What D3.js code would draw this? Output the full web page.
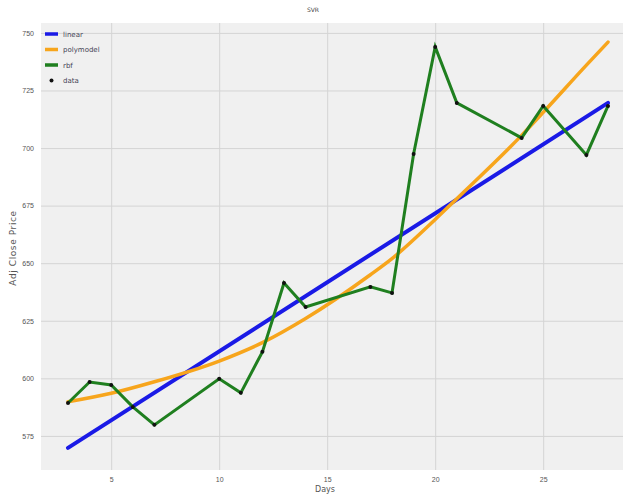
<!DOCTYPE html>
<html>
<head>
<meta charset="utf-8">
<script src="https://cdn.jsdelivr.net/npm/d3@7"></script>
<style>
  html, body { margin: 0; padding: 0; background: #ffffff; }
  svg { display: block; font-family: "DejaVu Sans", sans-serif; }
</style>
</head>
<body>
<svg id="chart" width="623" height="498"></svg>
<script>
// Trading days and adjusted close prices
const days = [3, 4, 5, 6, 7, 10, 11, 12, 13, 14, 17, 18, 19, 20, 21, 24, 25, 27, 28];
const prices = [589.3, 598.4, 597.1, 587.6, 579.8, 599.8, 593.7, 611.5, 641.4, 631.0,
                639.7, 637.1, 697.4, 743.9, 719.6, 704.4, 718.3, 697.0, 718.3];

// Model predictions
const linearDays = [3, 28];
const linearPred = [569.8, 719.6];
const polyDays = [3, 5, 7, 10, 12, 14, 17, 18, 20, 21, 24, 25, 27, 28];
const polyPred = [589.8, 593.5, 598.5, 607.5, 615.5, 626.0, 645.0, 652.0, 669.0, 678.0,
                  705.5, 715.5, 736.0, 746.0];
const rbfPred = prices;

const xTicks = [5, 10, 15, 20, 25];
const yTicks = [575, 600, 625, 650, 675, 700, 725, 750];
const legendLabels = ["linear", "polymodel", "rbf", "data"];

const svg = d3.select("#chart");
const plotLeft = 41, plotRight = 635, plotTop = 23, plotBottom = 470;

const x = d3.scaleLinear().domain([1.75, 29.25]).range([plotLeft, plotRight]);
const y = d3.scaleLinear().domain([560.2, 754.3]).range([plotBottom, plotTop]);

// plot background
svg.append("rect")
  .attr("x", plotLeft).attr("y", plotTop)
  .attr("width", plotRight - plotLeft).attr("height", plotBottom - plotTop)
  .attr("fill", "#f0f0f0");

// gridlines + tick labels
const yAxis = svg.append("g")
  .attr("transform", `translate(${plotLeft},0)`)
  .call(d3.axisLeft(y).tickValues(yTicks).tickSize(-(plotRight - plotLeft)).tickPadding(7).tickFormat(d3.format("d")));
const xAxis = svg.append("g")
  .attr("transform", `translate(0,${plotBottom})`)
  .call(d3.axisBottom(x).tickValues(xTicks).tickSize(-(plotBottom - plotTop)).tickPadding(7).tickFormat(d3.format("d")));
[xAxis, yAxis].forEach(g => {
  g.select(".domain").remove();
  g.selectAll(".tick line").attr("stroke", "#d4d4d4").attr("stroke-width", 1);
  g.selectAll(".tick text").attr("fill", "#555").style("font-size", "7px");
});

// axis titles and chart title
svg.append("text")
  .attr("x", 325).attr("y", 492)
  .attr("text-anchor", "middle")
  .attr("fill", "#555").style("font-size", "8px")
  .text("Days");
svg.append("text")
  .attr("transform", "translate(16,248) rotate(-90)")
  .attr("text-anchor", "middle")
  .attr("fill", "#555").style("font-size", "9px")
  .style("letter-spacing", "0.6px")
  .text("Adj Close Price");
svg.append("text")
  .attr("x", 313).attr("y", 12)
  .attr("text-anchor", "middle")
  .attr("fill", "#444").style("font-size", "6px")
  .text("SVR");

const line = d3.line().x(d => x(d[0])).y(d => y(d[1]));

// linear model
svg.append("path")
  .datum(d3.zip(linearDays, linearPred))
  .attr("d", line)
  .attr("fill", "none")
  .attr("stroke", "#1a1ae6")
  .attr("stroke-width", 4)
  .attr("stroke-linecap", "round");

// polynomial model
svg.append("path")
  .datum(d3.zip(polyDays, polyPred))
  .attr("d", d3.line().x(d => x(d[0])).y(d => y(d[1])).curve(d3.curveMonotoneX))
  .attr("fill", "none")
  .attr("stroke", "#f7a51c")
  .attr("stroke-width", 3.5)
  .attr("stroke-linecap", "round");

// rbf model
svg.append("path")
  .datum(d3.zip(days, rbfPred))
  .attr("d", line)
  .attr("fill", "none")
  .attr("stroke", "#1f7f1f")
  .attr("stroke-width", 3)
  .attr("stroke-linejoin", "miter");

// observed prices
svg.append("g")
  .selectAll("circle")
  .data(d3.zip(days, prices))
  .join("circle")
  .attr("cx", d => x(d[0]))
  .attr("cy", d => y(d[1]))
  .attr("r", 2)
  .attr("fill", "#111");

// legend
const colors = ["#1a1ae6", "#f7a51c", "#1f7f1f", "#111"];
const legend = svg.append("g").attr("transform", "translate(45,34)");
legendLabels.forEach((label, i) => {
  const row = legend.append("g").attr("transform", `translate(0,${i * 15.5})`);
  if (label === "data") {
    row.append("circle").attr("cx", 6.5).attr("cy", 0).attr("r", 2).attr("fill", colors[i]);
  } else {
    row.append("line")
      .attr("x1", 0).attr("x2", 13).attr("y1", 0).attr("y2", 0)
      .attr("stroke", colors[i]).attr("stroke-width", 3.5);
  }
  row.append("text")
    .attr("x", 18).attr("y", 2.5)
    .attr("fill", "#445").style("font-size", "7px")
    .text(label);
});
</script>
</body>
</html>
